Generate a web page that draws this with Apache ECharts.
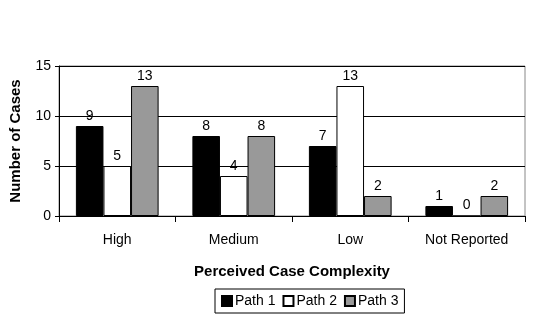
<!DOCTYPE html>
<html>
<head>
<meta charset="utf-8">
<script src="https://cdn.jsdelivr.net/npm/echarts@6/dist/echarts.min.js"></script>
<style>
	html, body { margin: 0; padding: 0; background: #fff; }
	#chart { width: 556px; height: 318px; }
</style>
</head>
<body>
<div id="chart"></div>
<script>
const categories = ['High', 'Medium', 'Low', 'Not Reported'];
const path1 = [9, 8, 7, 1];
const path2 = [5, 4, 13, 0];
const path3 = [13, 8, 2, 2];

document.addEventListener('DOMContentLoaded', function() {
	const chart = echarts.init(document.getElementById('chart'));
	const font = 'Liberation Sans, Arial, sans-serif';
	const label = {
		show: true,
		position: 'top',
		distance: 3,
		color: '#000',
		fontSize: 14,
		fontFamily: font
	};
	function bar(name, data, color) {
		return {
			name: name,
			type: 'bar',
			data: data,
			barGap: '0%',
			barCategoryGap: '29%',
			itemStyle: { color: color, borderColor: '#000', borderWidth: 1 },
			label: label
		};
	}
	chart.setOption({
		animation: false,
		textStyle: { fontFamily: font },
		grid: { left: 59, right: 31, top: 66, bottom: 102, show: true, borderColor: '#888', borderWidth: 1 },
		legend: {
			bottom: 5,
			left: 215,
			icon: 'rect',
			itemWidth: 10,
			itemHeight: 10,
			itemGap: 7,
			padding: [5, 6, 5, 6],
			borderColor: '#000',
			borderWidth: 1,
			borderRadius: 0,
			textStyle: { color: '#000', fontSize: 14, fontFamily: font, padding: [0, 0, 0, -2] },
			data: ['Path 1', 'Path 2', 'Path 3']
		},
		xAxis: {
			type: 'category',
			data: categories,
			name: 'Perceived Case Complexity',
			nameLocation: 'middle',
			nameGap: 48,
			nameTextStyle: { color: '#000', fontSize: 15, fontWeight: 'bold', fontFamily: font },
			axisLine: { lineStyle: { color: '#000' } },
			axisTick: { show: true, length: 6, lineStyle: { color: '#000' } },
			axisLabel: { color: '#000', fontSize: 14, margin: 17, fontFamily: font }
		},
		yAxis: {
			type: 'value',
			min: 0,
			max: 15,
			interval: 5,
			name: 'Number of Cases',
			nameLocation: 'middle',
			nameGap: 36,
			nameTextStyle: { color: '#000', fontSize: 15, fontWeight: 'bold', fontFamily: font },
			axisLine: { show: true, lineStyle: { color: '#000' } },
			axisTick: { show: true, length: 4, lineStyle: { color: '#000' } },
			axisLabel: { color: '#000', fontSize: 14, margin: 8, fontFamily: font },
			splitLine: { show: true, lineStyle: { color: '#000' } }
		},
		series: [
			bar('Path 1', path1, '#000000'),
			bar('Path 2', path2, '#ffffff'),
			bar('Path 3', path3, '#999999')
		]
	});
	window.addEventListener('resize', function() {
		chart.resize();
	});
});
</script>
</body>
</html>
